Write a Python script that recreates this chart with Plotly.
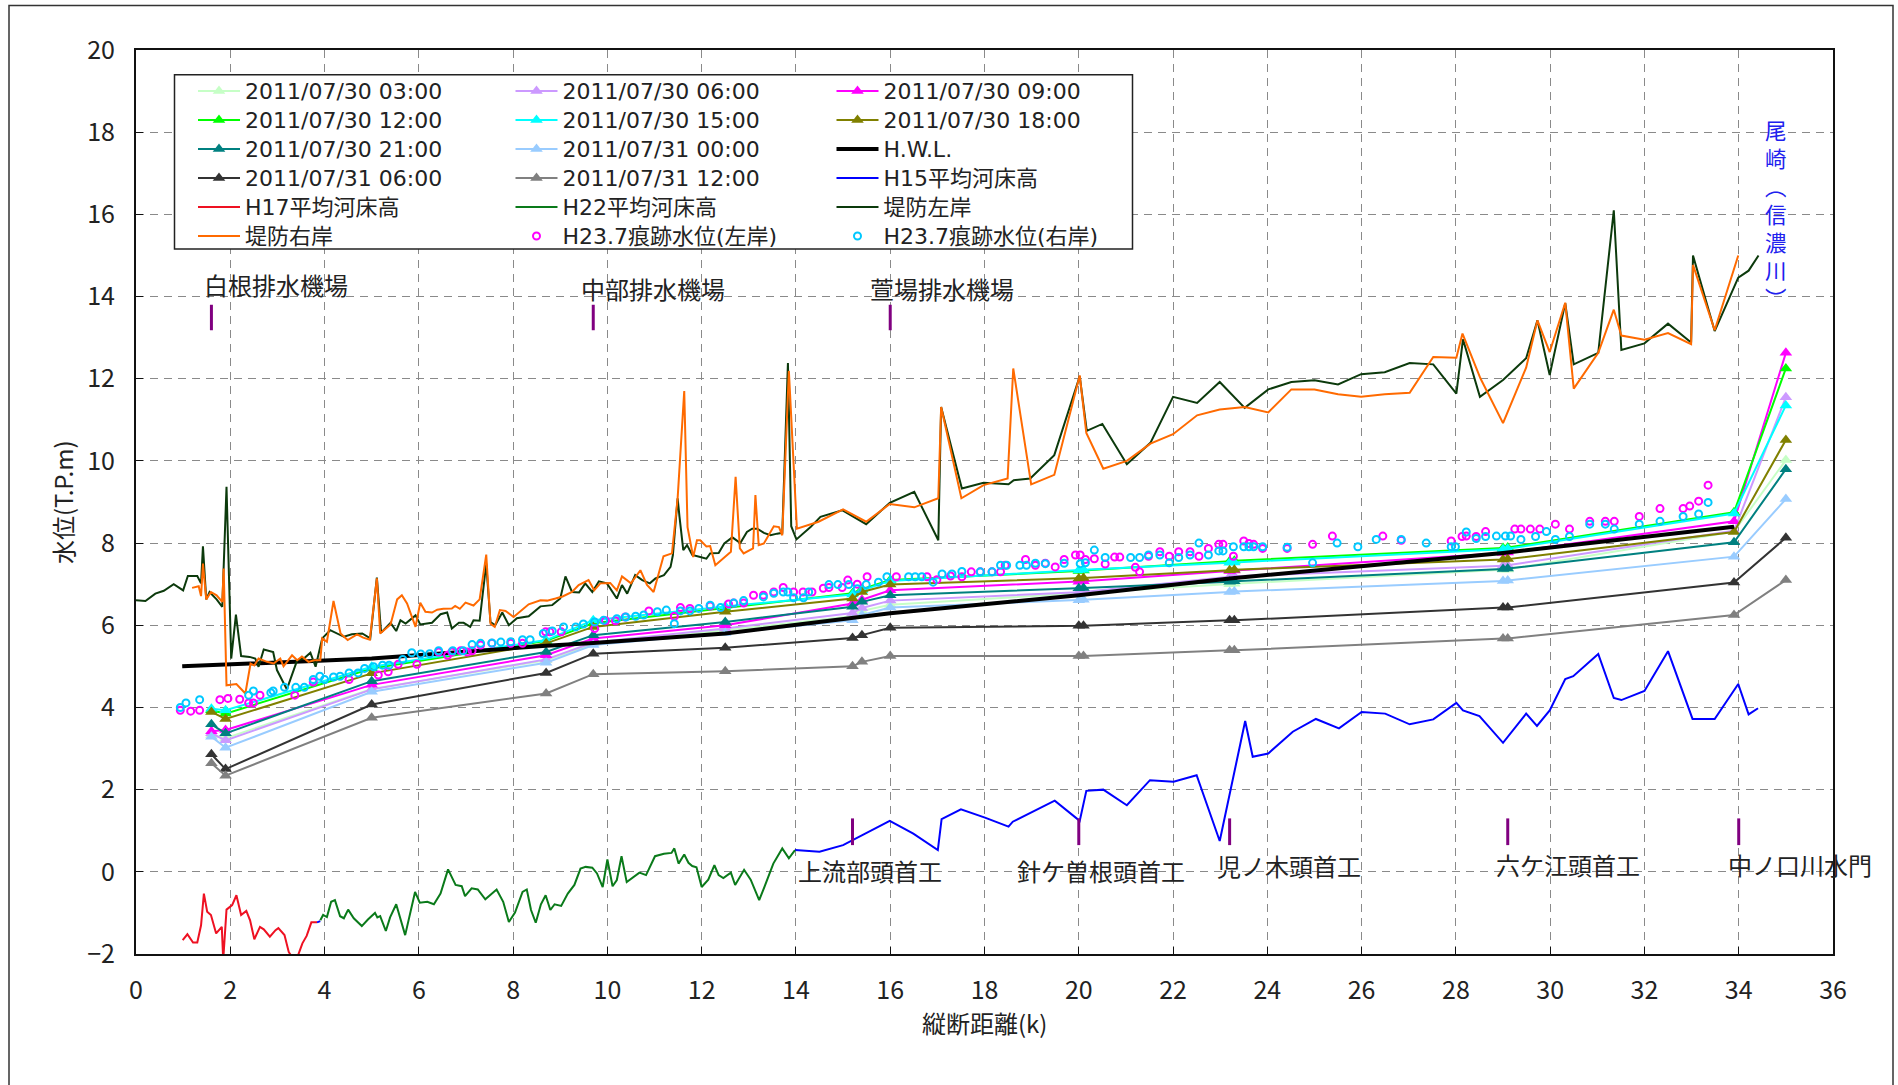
import plotly.graph_objects as go

# ---------------- data ----------------
stations = [1.6, 1.9, 5.0, 8.7, 9.7, 12.5, 15.2, 15.4, 16.0, 20.0, 20.1, 23.2, 23.3, 29.0, 29.1, 33.9, 35.0]

wl_0730_0300 = [3.33, 3.25, 4.45, 5.15, 5.55, 5.88, 6.22, 6.35, 6.50, 6.78, 6.79, 7.00, 7.01, 7.35, 7.36, 8.28, 10.02]
wl_0730_0600 = [3.37, 3.20, 4.44, 5.17, 5.58, 5.92, 6.30, 6.42, 6.60, 6.80, 6.81, 7.18, 7.19, 7.45, 7.46, 8.30, 11.55]
wl_0730_0900 = [3.42, 3.45, 4.55, 5.27, 5.68, 6.00, 6.53, 6.62, 6.85, 7.06, 7.07, 7.32, 7.33, 7.76, 7.77, 8.53, 12.63]
wl_0730_1200 = [3.93, 3.85, 4.95, 5.62, 6.05, 6.42, 6.78, 6.88, 7.10, 7.32, 7.33, 7.56, 7.57, 7.88, 7.89, 8.75, 12.25]
wl_0730_1500 = [3.97, 3.93, 4.99, 5.64, 6.12, 6.46, 6.75, 6.85, 7.08, 7.34, 7.35, 7.52, 7.53, 7.85, 7.86, 8.72, 11.35]
wl_0730_1800 = [3.89, 3.72, 4.83, 5.56, 5.96, 6.33, 6.65, 6.81, 6.99, 7.14, 7.15, 7.34, 7.35, 7.60, 7.61, 8.27, 10.51]
wl_0730_2100 = [3.59, 3.37, 4.64, 5.35, 5.76, 6.08, 6.45, 6.57, 6.73, 6.90, 6.91, 7.06, 7.07, 7.37, 7.38, 8.02, 9.80]
wl_0731_0000 = [3.29, 3.02, 4.38, 5.09, 5.52, 5.81, 6.12, 6.25, 6.43, 6.61, 6.62, 6.81, 6.82, 7.08, 7.09, 7.67, 9.07]
wl_0731_0600 = [2.86, 2.50, 4.07, 4.84, 5.31, 5.45, 5.69, 5.76, 5.94, 5.99, 5.99, 6.12, 6.12, 6.43, 6.43, 7.04, 8.13]
wl_0731_1200 = [2.64, 2.34, 3.75, 4.34, 4.81, 4.88, 5.00, 5.11, 5.25, 5.25, 5.25, 5.39, 5.39, 5.68, 5.68, 6.25, 7.10]

hwl_x = [0.98, 5.0, 8.7, 9.7, 12.5, 15.2, 16.0, 20.0, 23.2, 29.0, 33.9]
hwl_y = [5.00, 5.19, 5.50, 5.57, 5.80, 6.18, 6.29, 6.73, 7.14, 7.76, 8.40]

h15_x = [3.84, 3.91, None, 13.98, 14.5, 15.0, 15.99, 16.49, 17.01, 17.09, 17.5, 18.01, 18.51, 18.6, 19.49, 20.02,
         20.16, 20.52, 21.02, 21.51, 22.01, 22.5, 22.99, 23.53, 23.69, 24.02, 24.54, 25.03, 25.52, 26.0, 26.5,
         27.02, 27.52, 28.01, 28.15, 28.5, 29.0, 29.49, 29.72, 29.99, 30.32, 30.49, 31.02, 31.35, 31.51, 32.0,
         32.5, 33.02, 33.49, 33.99, 34.21, 34.41]
h15_y = [-1.23, -1.20, None, 0.53, 0.49, 0.65, 1.24, 0.93, 0.53, 1.28, 1.52, 1.32, 1.10, 1.22, 1.73, 1.24,
         1.97, 2.00, 1.62, 2.23, 2.19, 2.35, 0.75, 3.67, 2.80, 2.88, 3.41, 3.72, 3.49, 3.89, 3.85,
         3.59, 3.71, 4.11, 3.93, 3.79, 3.14, 3.85, 3.55, 3.93, 4.69, 4.76, 5.30, 4.23, 4.18, 4.40,
         5.37, 3.72, 3.72, 4.57, 3.83, 3.98]

h17_x = [0.99, 1.09, 1.21, 1.3, 1.38, 1.44, 1.51, 1.59, 1.7, 1.82, 1.85, 1.92, 2.04, 2.13, 2.23, 2.34, 2.42,
         2.51, 2.63, 2.71, 2.84, 2.96, 3.02, 3.15, 3.24, 3.32, 3.41, 3.53, 3.62, 3.72, 3.84]
h17_y = [-1.66, -1.52, -1.72, -1.72, -1.30, -0.53, -0.97, -1.05, -1.50, -1.34, -2.15, -0.92, -0.81, -0.57,
         -1.05, -0.95, -1.18, -1.64, -1.34, -1.40, -1.58, -1.42, -1.37, -1.54, -1.95, -2.09, -2.12, -1.74,
         -1.56, -1.23, -1.23]

h22_x = [3.91, 3.97, 4.05, 4.14, 4.22, 4.33, 4.41, 4.5, 4.62, 4.79, 4.92, 5.07, 5.12, 5.18, 5.3, 5.39, 5.52,
         5.71, 5.92, 6.02, 6.18, 6.32, 6.46, 6.62, 6.78, 6.91, 6.98, 7.12, 7.25, 7.41, 7.65, 7.79, 7.91, 8.04,
         8.2, 8.29, 8.38, 8.48, 8.59, 8.69, 8.79, 8.88, 9.02, 9.16, 9.3, 9.43, 9.54, 9.68, 9.78, 9.9, 10.0,
         10.11, 10.2, 10.3, 10.41, 10.53, 10.68, 10.82, 11.01, 11.2, 11.36, 11.42, 11.51, 11.63, 11.72, 11.8,
         11.89, 12.0, 12.14, 12.27, 12.36, 12.46, 12.62, 12.71, 12.8, 12.9, 13.04, 13.22, 13.33, 13.52, 13.71,
         13.85, 13.98]
h22_y = [-1.18, -1.05, -1.10, -0.73, -0.69, -1.08, -1.13, -0.92, -1.13, -1.32, -1.16, -1.00, -1.11, -1.08,
         -1.44, -1.11, -0.79, -1.54, -0.49, -0.75, -0.73, -0.79, -0.53, 0.06, -0.32, -0.35, -0.59, -0.40,
         -0.43, -0.67, -0.43, -0.73, -1.22, -0.99, -0.49, -0.43, -0.93, -1.24, -0.79, -0.57, -0.93, -0.79,
         -0.83, -0.53, -0.32, 0.08, 0.12, 0.10, -0.04, -0.37, 0.30, -0.35, -0.20, 0.38, -0.25, -0.15, -0.02,
         -0.08, 0.38, 0.44, 0.46, 0.57, 0.20, 0.42, 0.22, 0.14, 0.11, -0.37, -0.19, 0.16, -0.08, -0.15,
         -0.02, -0.32, -0.15, 0.05, -0.19, -0.69, -0.37, 0.20, 0.57, 0.33, 0.53]

levee_left = [
    (0.0, 6.61), (0.2, 6.59), (0.41, 6.77), (0.59, 6.84), (0.8, 7.0), (1.0, 6.85), (1.1, 7.2), (1.3, 7.2),
    (1.38, 7.02), (1.42, 7.92), (1.49, 6.63), (1.56, 6.81), (1.71, 6.63), (1.83, 6.45), (1.92, 9.37),
    (2.02, 5.19), (2.12, 6.26), (2.23, 5.25), (2.41, 5.23), (2.53, 5.19), (2.6, 4.99), (2.71, 5.41),
    (2.91, 5.35), (2.99, 4.91), (3.2, 4.44), (3.42, 5.15), (3.56, 5.19), (3.7, 5.33), (3.81, 4.99),
    (3.95, 5.68), (4.12, 5.88), (4.41, 5.72), (4.58, 5.78), (4.8, 5.8), (4.97, 5.68), (5.11, 7.16),
    (5.2, 5.82), (5.4, 6.06), (5.52, 5.86), (5.61, 6.12), (5.72, 6.04), (5.93, 6.24), (6.03, 6.02),
    (6.28, 6.06), (6.46, 6.27), (6.6, 6.31), (6.7, 5.92), (6.85, 6.06), (6.95, 6.06), (7.09, 5.96),
    (7.16, 6.12), (7.29, 6.11), (7.43, 7.5), (7.52, 6.08), (7.62, 6.0), (7.77, 6.31), (7.91, 6.0),
    (8.08, 6.17), (8.33, 6.22), (8.58, 6.46), (8.83, 6.49), (9.0, 6.65), (9.11, 7.19), (9.25, 6.81),
    (9.4, 6.8), (9.53, 7.02), (9.68, 6.81), (9.82, 7.07), (9.99, 7.02), (10.2, 6.65), (10.31, 6.98),
    (10.42, 6.77), (10.59, 7.22), (10.74, 7.1), (10.9, 7.02), (11.02, 7.14), (11.2, 7.22), (11.34, 7.42),
    (11.39, 7.71), (11.49, 9.09), (11.53, 8.64), (11.61, 7.83), (11.69, 7.95), (11.8, 7.71), (11.97, 7.66),
    (12.1, 7.62), (12.18, 7.75), (12.36, 7.76), (12.48, 7.99), (12.65, 8.14), (12.82, 8.0), (12.96, 8.27),
    (13.07, 8.35), (13.18, 8.35), (13.32, 8.25), (13.46, 8.19), (13.6, 8.23), (13.71, 8.25), (13.83, 12.38),
    (13.9, 8.41), (14.01, 8.09), (14.31, 8.39), (14.52, 8.64), (14.98, 8.8), (15.49, 8.46), (15.99, 8.98),
    (16.51, 9.25), (17.02, 8.07), (17.08, 11.31), (17.52, 9.33), (17.98, 9.47), (18.51, 9.43), (18.62, 9.53),
    (18.97, 9.57), (19.48, 10.14), (20.02, 12.06), (20.17, 10.73), (20.5, 10.9), (21.02, 9.92),
    (21.52, 10.44), (22.0, 11.56), (22.51, 11.41), (22.99, 11.92), (23.52, 11.29), (24.02, 11.74),
    (24.51, 11.92), (25.0, 11.96), (25.5, 11.86), (25.99, 12.11), (26.49, 12.16), (27.02, 12.38),
    (27.52, 12.35), (28.01, 11.64), (28.15, 12.96), (28.51, 11.56), (29.0, 11.97), (29.49, 12.5),
    (29.73, 13.42), (29.99, 12.09), (30.32, 13.84), (30.5, 12.35), (31.02, 12.63), (31.35, 16.1),
    (31.51, 12.7), (32.0, 12.86), (32.5, 13.34), (32.99, 12.88), (33.03, 15.0), (33.49, 13.16),
    (33.99, 14.46), (34.21, 14.63), (34.42, 15.0)]

levee_right = [
    (1.19, 6.91), (1.33, 6.95), (1.38, 6.71), (1.42, 7.5), (1.49, 6.63), (1.59, 6.81), (1.71, 6.73),
    (1.83, 6.57), (1.86, 7.38), (1.92, 4.54), (2.13, 4.57), (2.32, 4.34), (2.43, 5.07), (2.51, 5.02),
    (2.6, 5.19), (2.78, 5.11), (2.92, 5.07), (3.06, 5.19), (3.13, 5.0), (3.31, 5.27), (3.42, 5.15),
    (3.52, 5.24), (3.66, 5.11), (3.78, 5.15), (3.91, 5.15), (3.95, 5.68), (4.05, 5.6), (4.19, 6.59),
    (4.34, 5.8), (4.49, 5.64), (4.69, 5.78), (4.82, 5.7), (4.96, 5.65), (5.11, 7.14), (5.18, 5.8),
    (5.4, 6.02), (5.54, 6.63), (5.64, 6.73), (5.75, 6.53), (5.93, 5.96), (6.03, 6.55), (6.14, 6.33),
    (6.28, 6.31), (6.39, 6.38), (6.52, 6.4), (6.7, 6.41), (6.77, 6.47), (6.87, 6.4), (6.99, 6.55),
    (7.16, 6.48), (7.29, 6.63), (7.43, 7.72), (7.52, 6.04), (7.61, 5.96), (7.72, 6.37), (7.84, 6.35),
    (8.01, 6.2), (8.17, 6.35), (8.33, 6.51), (8.58, 6.61), (8.72, 6.6), (8.9, 6.65), (9.05, 6.7),
    (9.25, 6.81), (9.39, 6.98), (9.6, 7.1), (9.72, 6.85), (9.85, 7.02), (10.06, 7.03), (10.2, 6.85),
    (10.31, 7.19), (10.5, 7.02), (10.7, 7.34), (10.84, 6.98), (10.98, 6.81), (11.19, 7.68), (11.37, 7.75),
    (11.49, 9.09), (11.63, 11.7), (11.7, 8.39), (11.82, 7.66), (11.9, 8.07), (11.97, 8.07), (12.1, 7.92),
    (12.18, 7.93), (12.29, 7.46), (12.48, 7.65), (12.62, 7.79), (12.72, 9.61), (12.81, 7.87), (12.89, 7.75),
    (13.09, 7.87), (13.14, 9.17), (13.21, 7.95), (13.32, 7.99), (13.53, 8.41), (13.64, 8.39), (13.71, 8.19),
    (13.85, 12.19), (14.02, 8.35), (14.48, 8.52), (15.0, 8.82), (15.49, 8.52), (15.99, 8.95), (16.51, 8.87),
    (17.02, 9.09), (17.08, 11.31), (17.51, 9.09), (17.98, 9.41), (18.49, 9.57), (18.61, 12.25),
    (18.99, 9.43), (19.48, 9.66), (20.02, 12.08), (20.16, 10.68), (20.52, 9.81), (21.02, 10.0),
    (21.52, 10.42), (22.0, 10.65), (22.51, 11.11), (22.99, 11.25), (23.52, 11.31), (24.02, 11.18),
    (24.51, 11.74), (25.0, 11.74), (25.5, 11.62), (25.99, 11.56), (26.49, 11.62), (27.02, 11.66),
    (27.52, 12.53), (28.01, 12.51), (28.14, 13.1), (28.52, 12.01), (29.0, 10.92), (29.49, 12.27),
    (29.73, 13.42), (29.99, 12.65), (30.32, 13.85), (30.5, 11.76), (31.02, 12.63), (31.35, 13.68),
    (31.51, 13.05), (32.0, 12.95), (32.5, 13.11), (32.99, 12.84), (33.03, 14.77), (33.49, 13.18),
    (33.99, 15.0)]

trace_mark_left = [
    (0.94, 3.93), (1.16, 3.91), (1.35, 3.93), (1.78, 4.19), (1.95, 4.22), (2.2, 4.2), (2.39, 4.11),
    (2.49, 4.11), (2.63, 4.3), (3.37, 4.3), (3.76, 4.62), (4.52, 4.68), (5.14, 4.79), (5.35, 4.87),
    (5.56, 5.05), (5.96, 5.05), (6.42, 5.35), (6.61, 5.27), (6.7, 5.35), (6.89, 5.38), (7.03, 5.35),
    (7.13, 5.38), (7.31, 5.52), (7.55, 5.56), (7.95, 5.56), (8.2, 5.56), (8.69, 5.84), (8.78, 5.84),
    (9.02, 5.84), (9.73, 5.92), (9.96, 6.11), (10.17, 6.11), (10.38, 6.2), (10.88, 6.35), (11.42, 6.22),
    (11.55, 6.43), (11.75, 6.41), (12.18, 6.47), (12.57, 6.52), (12.68, 6.54), (12.89, 6.54), (13.1, 6.73),
    (13.31, 6.73), (13.53, 6.81), (13.73, 6.92), (13.95, 6.81), (14.15, 6.81), (14.34, 6.81), (14.58, 6.9),
    (14.7, 6.92), (14.98, 6.92), (15.1, 7.1), (15.3, 7.0), (15.51, 7.18), (16.13, 7.18), (16.78, 7.18),
    (16.99, 7.11), (17.28, 7.2), (17.52, 7.18), (17.72, 7.3), (17.91, 7.3), (18.16, 7.3), (18.34, 7.3),
    (18.44, 7.46), (18.87, 7.6), (19.08, 7.46), (19.29, 7.51), (19.5, 7.42), (19.69, 7.6), (19.93, 7.71),
    (20.03, 7.71), (20.14, 7.6), (20.33, 7.62), (20.56, 7.49), (20.76, 7.66), (20.87, 7.66), (21.2, 7.41),
    (21.29, 7.3), (21.48, 7.68), (21.72, 7.79), (21.92, 7.68), (22.12, 7.79), (22.36, 7.79), (22.55, 7.68),
    (22.75, 7.87), (22.97, 7.97), (23.06, 7.97), (23.28, 7.68), (23.5, 8.05), (23.61, 7.99), (23.71, 7.97),
    (23.9, 7.87), (24.42, 7.87), (24.96, 7.97), (25.38, 8.17), (26.45, 8.17), (26.84, 8.07), (27.9, 8.05),
    (28.13, 8.16), (28.22, 8.17), (28.43, 8.16), (28.63, 8.28), (29.25, 8.34), (29.38, 8.34), (29.58, 8.34),
    (29.78, 8.34), (30.11, 8.46), (30.41, 8.34), (30.84, 8.53), (31.17, 8.53), (31.36, 8.53), (31.89, 8.65),
    (32.33, 8.84), (32.82, 8.84), (32.96, 8.9), (33.15, 9.02), (33.35, 9.41)]

trace_mark_right = [
    (0.94, 4.0), (1.06, 4.11), (1.35, 4.19), (2.39, 4.3), (2.49, 4.4), (2.86, 4.36), (2.91, 4.4),
    (3.15, 4.49), (3.39, 4.49), (3.57, 4.49), (3.76, 4.68), (3.9, 4.76), (4.0, 4.68), (4.19, 4.74),
    (4.33, 4.76), (4.52, 4.84), (4.71, 4.84), (4.85, 4.95), (5.04, 4.99), (5.23, 5.03), (5.37, 5.03),
    (5.66, 5.17), (5.85, 5.33), (6.04, 5.3), (6.23, 5.31), (6.42, 5.38), (6.72, 5.38), (6.94, 5.38),
    (7.13, 5.53), (7.31, 5.56), (7.55, 5.57), (7.74, 5.59), (7.95, 5.6), (8.2, 5.65), (8.36, 5.65),
    (8.64, 5.8), (8.83, 5.86), (9.07, 5.96), (9.33, 5.96), (9.49, 6.03), (9.73, 6.08), (9.92, 6.12),
    (10.2, 6.16), (10.39, 6.2), (10.6, 6.22), (10.77, 6.25), (11.06, 6.33), (11.25, 6.37), (11.42, 6.04),
    (11.55, 6.35), (11.75, 6.35), (11.94, 6.41), (12.18, 6.49), (12.4, 6.43), (12.68, 6.54), (12.89, 6.6),
    (13.31, 6.69), (13.53, 6.78), (13.73, 6.81), (13.83, 6.81), (13.95, 6.67), (14.16, 6.67), (14.27, 6.81),
    (14.7, 6.99), (14.89, 6.99), (15.12, 6.99), (15.3, 6.89), (15.49, 6.99), (15.75, 7.05), (15.93, 7.18),
    (16.39, 7.18), (16.53, 7.18), (16.67, 7.18), (16.91, 7.05), (17.1, 7.25), (17.31, 7.25), (17.52, 7.31),
    (17.91, 7.3), (18.16, 7.3), (18.34, 7.46), (18.47, 7.46), (18.75, 7.46), (18.89, 7.46), (19.08, 7.51),
    (19.29, 7.5), (19.69, 7.51), (20.03, 7.5), (20.14, 7.52), (20.33, 7.83), (20.56, 7.65), (21.1, 7.65),
    (21.29, 7.65), (21.48, 7.71), (21.72, 7.71), (21.92, 7.52), (22.12, 7.65), (22.36, 7.71), (22.55, 8.0),
    (22.75, 7.71), (22.97, 7.81), (23.06, 7.81), (23.28, 7.91), (23.5, 7.91), (23.61, 7.91), (23.71, 7.91),
    (23.9, 7.91), (24.42, 7.9), (24.96, 7.52), (25.48, 8.0), (25.92, 7.91), (26.31, 8.09), (26.84, 8.09),
    (27.37, 8.0), (27.9, 7.91), (27.99, 7.91), (28.22, 8.27), (28.43, 8.11), (28.63, 8.16), (28.86, 8.17),
    (29.05, 8.17), (29.16, 8.17), (29.38, 8.09), (29.69, 8.16), (29.92, 8.28), (30.11, 8.09), (30.41, 8.16),
    (30.84, 8.46), (31.17, 8.46), (31.36, 8.34), (31.89, 8.46), (32.33, 8.53), (32.82, 8.65), (33.15, 8.71),
    (33.35, 8.99)]

upper_facility_x = [1.6, 9.7, 16.0]
upper_facility_names = ["白根排水機場", "中部排水機場", "萱場排水機場"]
lower_facility_x = [15.2, 20.0, 23.2, 29.1, 34.0]
lower_facility_names = ["上流部頭首工", "針ケ曽根頭首工", "児ノ木頭首工", "六ケ江頭首工", "中ノ口川水門"]

# ---------------- styling ----------------
FONT = "Noto Sans CJK JP"
LEG_FONT = "DejaVu Sans, Noto Sans CJK JP"


def lname(s):
    return '<span style="font-size:22px">' + s + '</span>'


fig = go.Figure()

time_series = [
    ("2011/07/30 03:00", wl_0730_0300, "#c6ffc6", "legend"),
    ("2011/07/30 06:00", wl_0730_0600, "#cc99ff", "legend2"),
    ("2011/07/30 09:00", wl_0730_0900, "#ff00ff", "legend3"),
    ("2011/07/30 12:00", wl_0730_1200, "#00ff00", "legend"),
    ("2011/07/30 15:00", wl_0730_1500, "#00ffff", "legend2"),
    ("2011/07/30 18:00", wl_0730_1800, "#808000", "legend3"),
    ("2011/07/30 21:00", wl_0730_2100, "#008080", "legend"),
    ("2011/07/31 00:00", wl_0731_0000, "#99ccff", "legend2"),
]
for name, ys, col, leg in time_series:
    fig.add_trace(go.Scatter(x=stations, y=ys, mode="lines+markers", name=lname(name), legend=leg,
                             line=dict(color=col, width=2),
                             marker=dict(symbol="triangle-up", size=11, color=col)))

fig.add_trace(go.Scatter(x=hwl_x, y=hwl_y, mode="lines", name=lname("H.W.L."), legend="legend3",
                         line=dict(color="black", width=4)))

for name, ys, col, leg in [("2011/07/31 06:00", wl_0731_0600, "#333333", "legend"),
                           ("2011/07/31 12:00", wl_0731_1200, "#808080", "legend2")]:
    fig.add_trace(go.Scatter(x=stations, y=ys, mode="lines+markers", name=lname(name), legend=leg,
                             line=dict(color=col, width=2),
                             marker=dict(symbol="triangle-up", size=11, color=col)))

fig.add_trace(go.Scatter(x=h15_x, y=h15_y, mode="lines", name=lname("H15平均河床高"), legend="legend3",
                         line=dict(color="#0000ff", width=2), connectgaps=False))
fig.add_trace(go.Scatter(x=h17_x, y=h17_y, mode="lines", name=lname("H17平均河床高"), legend="legend",
                         line=dict(color="#ee1122", width=2)))
fig.add_trace(go.Scatter(x=h22_x, y=h22_y, mode="lines", name=lname("H22平均河床高"), legend="legend2",
                         line=dict(color="#0a7a1a", width=2)))
fig.add_trace(go.Scatter(x=[p[0] for p in levee_left], y=[p[1] for p in levee_left], mode="lines",
                         name=lname("堤防左岸"), legend="legend3",
                         line=dict(color="#0c3a0c", width=2)))
fig.add_trace(go.Scatter(x=[p[0] for p in levee_right], y=[p[1] for p in levee_right], mode="lines",
                         name=lname("堤防右岸"), legend="legend",
                         line=dict(color="#ff6a00", width=2)))
fig.add_trace(go.Scatter(x=[p[0] for p in trace_mark_left], y=[p[1] for p in trace_mark_left],
                         mode="markers", name=lname("H23.7痕跡水位(左岸)"), legend="legend2",
                         marker=dict(symbol="circle-open", size=7, color="#ff00ff", line=dict(width=2))))
fig.add_trace(go.Scatter(x=[p[0] for p in trace_mark_right], y=[p[1] for p in trace_mark_right],
                         mode="markers", name=lname("H23.7痕跡水位(右岸)"), legend="legend3",
                         marker=dict(symbol="circle-open", size=7, color="#00c8ff", line=dict(width=2))))

# ---------------- layout ----------------
W, H = 1898, 1085
ML, MR, MT, MB = 136, 65, 50, 131
PW = W - ML - MR
PH = H - MT - MB


def px_x(p):
    return (p - ML) / PW


def px_y(p):
    return (H - MB - p) / PH


shapes = []
# outer frame
shapes.append(dict(type="rect", xref="paper", yref="paper", x0=px_x(9), x1=px_x(1893), y0=px_y(1100),
                   y1=px_y(5.5), line=dict(color="#333333", width=1.5), fillcolor="rgba(0,0,0,0)", layer="below"))
# legend box
shapes.append(dict(type="rect", xref="paper", yref="paper", x0=px_x(174.5), x1=px_x(1132.5), y0=px_y(249),
                   y1=px_y(74.7), line=dict(color="#222222", width=1.5), fillcolor="white", layer="above"))
for xv in upper_facility_x:
    shapes.append(dict(type="line", xref="x", yref="y", x0=xv, x1=xv, y0=13.18, y1=13.8,
                       line=dict(color="#800080", width=3)))
for xv in lower_facility_x:
    shapes.append(dict(type="line", xref="x", yref="y", x0=xv, x1=xv, y0=0.65, y1=1.3,
                       line=dict(color="#800080", width=3)))

ann_font = dict(family=FONT, size=24, color="#222222")
annotations = []
upper_text_x = [1.40, 9.39, 15.53]
upper_text_y = [14.29, 14.19, 14.19]
for t, xv, yv in zip(upper_facility_names, upper_text_x, upper_text_y):
    annotations.append(dict(text=t, x=xv, y=yv, xref="x", yref="y", xanchor="left", yanchor="middle",
                            showarrow=False, font=ann_font))
lower_text_x = [14.0, 18.64, 22.88, 28.8, 33.72]
lower_text_y = [0.04, 0.04, 0.16, 0.18, 0.18]
for t, xv, yv in zip(lower_facility_names, lower_text_x, lower_text_y):
    annotations.append(dict(text=t, x=xv, y=yv, xref="x", yref="y", xanchor="left", yanchor="middle",
                            showarrow=False, font=ann_font))
annotations.append(dict(text="尾<br>崎<br>︵<br>信<br>濃<br>川<br>︶", x=34.8, y=16.02, xref="x", yref="y",
                        xanchor="center", yanchor="middle", showarrow=False,
                        font=dict(family=FONT, size=21.5, color="#2020ee")))
annotations.append(dict(text="水位(T.P.m)", x=px_x(62), y=0.5, xref="paper", yref="paper", textangle=-90,
                        showarrow=False, xanchor="center", yanchor="middle", font=ann_font))
annotations.append(dict(text="縦断距離(k)", x=px_x(984), y=px_y(1022), xref="paper", yref="paper",
                        showarrow=False, xanchor="center", yanchor="middle", font=ann_font))

axis_common = dict(showgrid=True, gridcolor="#8a8a8a", gridwidth=1, griddash="8px,6px",
                   showline=True, linecolor="#111111", linewidth=2, mirror=True, zeroline=False,
                   ticks="inside", ticklen=7, tickcolor="#111111",
                   tickfont=dict(family=FONT, size=25, color="#222222"))

leg_common = dict(orientation="v", xanchor="left", yanchor="top", bgcolor="rgba(0,0,0,0)", borderwidth=0,
                  font=dict(family=LEG_FONT, size=20, color="#222222"), itemwidth=42, tracegroupgap=0)
leg_top = px_y(71.5)

fig.update_layout(
    width=W, height=H, autosize=False,
    margin=dict(l=ML, r=MR, t=MT, b=MB, pad=0),
    paper_bgcolor="white", plot_bgcolor="white",
    font=dict(family=FONT, color="#222222"),
    xaxis=dict(range=[0, 36], dtick=2, tick0=0, ticklabelstandoff=13, **axis_common),
    yaxis=dict(range=[-2, 20], dtick=2, tick0=0, ticklabelstandoff=14, **axis_common),
    legend=dict(x=px_x(193), y=leg_top, **leg_common),
    legend2=dict(x=px_x(510.5), y=leg_top, **leg_common),
    legend3=dict(x=px_x(831.5), y=leg_top, **leg_common),
    shapes=shapes,
    annotations=annotations,
    showlegend=True,
)

fig.write_html("out.html", config={"displayModeBar": False},
               post_script="document.body.style.margin='0';document.body.style.overflow='hidden';")
